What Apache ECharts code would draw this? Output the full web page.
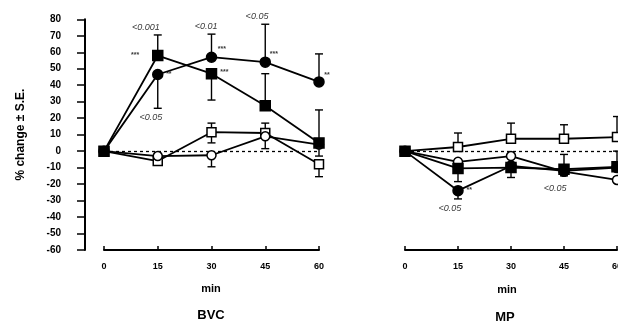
<!DOCTYPE html>
<html><head><meta charset="utf-8">
<script src="https://cdn.jsdelivr.net/npm/echarts@6/dist/echarts.min.js"></script>
<style>html,body{margin:0;padding:0;background:#fff}#c{width:618px;height:324px}</style>
</head><body><div id="c"></div>
<script>
const minutes = [0, 15, 30, 45, 60];
const yTicks = [-60, 80, 10];

// BVC panel
const bvcFilledSquare = [0, 58, 47, 27.5, 5];
const bvcFilledCircle = [0, 46.5, 57, 54, 42];
const bvcOpenSquare   = [0, -6, 11.5, 11, -8];
const bvcOpenCircle   = [0, -3, -2.5, 9, 4];
// error bars: [minute, low, high]
const bvcErrors = [
  [15, 58, 70.5], [30, 31, 47], [45, 27.5, 47], [60, 5, 25],
  [15, 26, 46.5], [30, 57, 71], [45, 54, 77], [60, 42, 59],
  [30, 5, 17], [45, 11, 17], [60, -15.5, -8],
  [30, -9.5, -2.5], [45, 1.5, 9], [60, -3, 4]
];
// annotations: [minute, value, text]
const bvcNotes = [
  [11.7, 75, '<0.001'], [28.5, 75.5, '<0.01'], [42.7, 81.5, '<0.05'], [13.1, 20.5, '<0.05']
];
const bvcStars = [
  [8.7, 58.5, '***'], [18.1, 46.5, '**'], [32.9, 62, '***'], [33.6, 48, '***'], [47.4, 59, '***'], [62.2, 46, '**']
];

// MP panel
const mpOpenSquare   = [0, 2.5, 7.5, 7.5, 8.5];
const mpFilledCircle = [0, -24, -9, -12, -10];
const mpFilledSquare = [0, -10.5, -10, -11, -9.5];
const mpOpenCircle   = [0, -6.5, -3, -12.5, -17.5];
const mpErrors = [
  [15, 2.5, 11], [30, 7.5, 17], [45, 7.5, 16], [60, 8.5, 21],
  [15, -29, -24], [45, -15, -2],
  [15, -18.5, -10.5], [30, -16, -9.5], [60, -9.5, 0]
];
const mpNotes = [[12.7, -35, '<0.05'], [42.5, -22.5, '<0.05']];
const mpStars = [[18.2, -23.5, '**']];

const FONT = '"Liberation Sans", Arial, sans-serif';
const pairs = v => minutes.map((m, i) => [m, v[i]]);

function errRender(params, api) {
  const x = api.value(0), lo = api.value(1), hi = api.value(2);
  const p1 = api.coord([x, lo]), p2 = api.coord([x, hi]);
  const w = 4, st = {stroke: '#000', lineWidth: 1.4};
  return {type: 'group', children: [
    {type: 'line', shape: {x1: p1[0], y1: p1[1], x2: p2[0], y2: p2[1]}, style: st},
    {type: 'line', shape: {x1: p1[0] - w, y1: p1[1], x2: p1[0] + w, y2: p1[1]}, style: st},
    {type: 'line', shape: {x1: p2[0] - w, y1: p2[1], x2: p2[0] + w, y2: p2[1]}, style: st}
  ]};
}

function lineSeries(idx, vals, symbol, filled, size) {
  return {
    type: 'line', xAxisIndex: idx, yAxisIndex: idx, data: pairs(vals),
    symbol: symbol, symbolSize: size, showAllSymbol: true, z: 5, clip: false,
    lineStyle: {color: '#000', width: 1.8},
    itemStyle: {color: filled ? '#000' : '#fff', borderColor: '#000', borderWidth: 1.5}
  };
}
function noteSeries(idx, data, italic, size) {
  return {
    type: 'scatter', xAxisIndex: idx, yAxisIndex: idx, data: data, symbolSize: 1, clip: false, z: 8,
    itemStyle: {color: 'transparent'}, silent: true,
    label: {show: true, position: 'inside', formatter: p => p.data[2], color: '#000',
      fontFamily: FONT, fontSize: size, fontStyle: italic ? 'italic' : 'normal', fontWeight: italic ? 'normal' : 'bold'}
  };
}
function zeroLine(idx) {
  return {
    type: 'line', xAxisIndex: idx, yAxisIndex: idx, data: [], silent: true,
    markLine: {silent: true, symbol: 'none', label: {show: false},
      lineStyle: {color: '#000', type: [3, 3], width: 1.3}, data: [{yAxis: 0}]}
  };
}

const gridTop = 19.3, gridH = 230.7;
const chart = echarts.init(document.getElementById('c'));
const xAxisBase = {
  type: 'value', min: 0, max: 60, interval: 15,
  axisLine: {onZero: false, lineStyle: {color: '#000', width: 2}},
  axisTick: {inside: true, length: 4, lineStyle: {color: '#000', width: 1.5}},
  axisLabel: {color: '#000', fontFamily: FONT, fontWeight: 'bold', fontSize: 9, margin: 12},
  splitLine: {show: false}
};
const txt = (x, y, t, size) => ({type: 'text', x: x, y: y,
  style: {text: t, fill: '#000', font: 'bold ' + size + 'px ' + FONT, textAlign: 'center', textVerticalAlign: 'middle'}});
chart.setOption({
  animation: false,
  grid: [
    {left: 104, top: gridTop, width: 215, height: gridH, outerBoundsMode: 'none', containLabel: false},
    {left: 405, top: gridTop, width: 212, height: gridH, outerBoundsMode: 'none', containLabel: false}
  ],
  xAxis: [Object.assign({gridIndex: 0}, xAxisBase), Object.assign({gridIndex: 1}, xAxisBase)],
  yAxis: [
    {gridIndex: 0, type: 'value', min: yTicks[0], max: yTicks[1], interval: yTicks[2], offset: 19,
      name: '% change \u00b1 S.E.', nameLocation: 'middle', nameGap: 58,
      nameTextStyle: {color: '#000', fontFamily: FONT, fontWeight: 'bold', fontSize: 12},
      axisLine: {show: true, onZero: false, lineStyle: {color: '#000', width: 2}},
      axisTick: {show: true, length: 8, lineStyle: {color: '#000', width: 1.5}},
      axisLabel: {color: '#000', fontFamily: FONT, fontWeight: 'bold', fontSize: 10, margin: 24},
      splitLine: {show: false}},
    {gridIndex: 1, type: 'value', min: yTicks[0], max: yTicks[1], interval: yTicks[2], show: false, splitLine: {show: false}}
  ],
  graphic: [
    txt(211, 289, 'min', 11), txt(211, 315, 'BVC', 13),
    txt(507, 290, 'min', 11), txt(505, 317, 'MP', 13)
  ],
  series: [
    zeroLine(0), zeroLine(1),
    {type: 'custom', xAxisIndex: 0, yAxisIndex: 0, data: bvcErrors, renderItem: errRender, z: 3, clip: false},
    {type: 'custom', xAxisIndex: 1, yAxisIndex: 1, data: mpErrors, renderItem: errRender, z: 3, clip: false},
    lineSeries(0, bvcOpenSquare, 'rect', false, 9),
    lineSeries(0, bvcOpenCircle, 'circle', false, 9),
    lineSeries(0, bvcFilledSquare, 'rect', true, 10),
    lineSeries(0, bvcFilledCircle, 'circle', true, 10),
    lineSeries(1, mpOpenSquare, 'rect', false, 9),
    lineSeries(1, mpOpenCircle, 'circle', false, 9),
    lineSeries(1, mpFilledSquare, 'rect', true, 10),
    lineSeries(1, mpFilledCircle, 'circle', true, 10),
    noteSeries(0, bvcNotes, true, 9),
    noteSeries(0, bvcStars, false, 7),
    noteSeries(1, mpNotes, true, 9),
    noteSeries(1, mpStars, false, 7)
  ]
});
</script>
</body></html>
